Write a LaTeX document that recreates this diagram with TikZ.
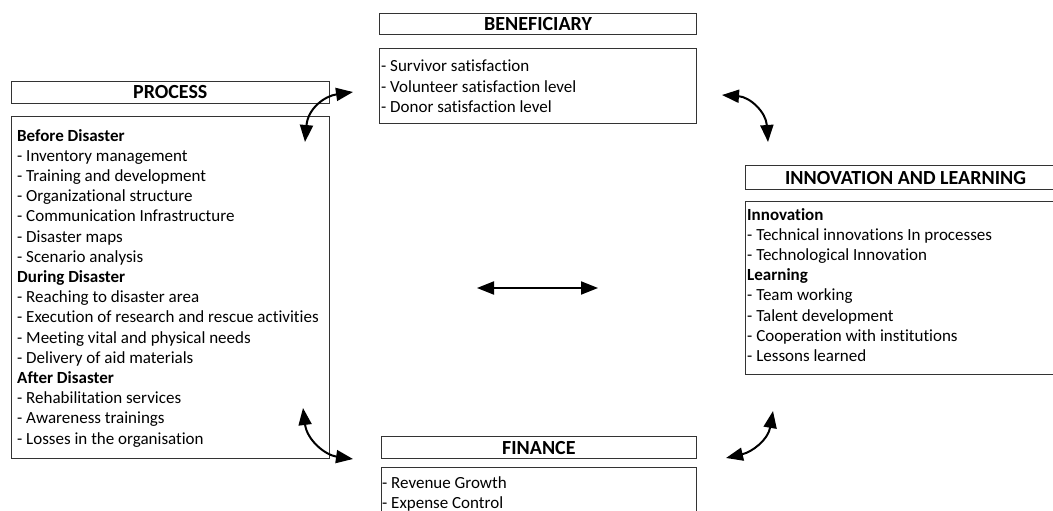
\documentclass[tikz,border=0pt]{standalone}
\usepackage{fontspec}
\setmainfont[Ligatures={NoCommon}]{Carlito}
\usetikzlibrary{arrows.meta}
\begin{document}
\begin{tikzpicture}[x=1pt,y=-1pt,
  box/.style={draw=black!80, line width=1.1pt, rectangle, inner sep=0pt, anchor=north west},
  hdr/.style={box, font=\fontsize{20}{22}\selectfont\bfseries},
  txt/.style={anchor=north west, inner sep=0pt, align=left, font=\fontsize{17}{20.2}\selectfont},
  dbl/.style={line width=2pt, {Triangle[length=17pt,width=13pt]}-{Triangle[length=17pt,width=13pt]}}]
\useasboundingbox (0,0) rectangle (1053,511);
% PROCESS
\node[hdr, minimum width=318.5pt, minimum height=22.5pt] (ph) at (10.5,80.7) {PROCESS};
\node[box, minimum width=318.5pt, minimum height=342.5pt] (pb) at (10.5,115.7) {};
\node[txt] (ptx) at (17,129) {\textbf{Before Disaster}\\
- Inventory management\\
- Training and development\\
- Organizational structure\\
- Communication Infrastructure\\
- Disaster maps\\
- Scenario analysis\\
\textbf{During Disaster}\\
- Reaching to disaster area\\
- Execution of research and rescue activities\\
- Meeting vital and physical needs\\
- Delivery of aid materials\\
\textbf{After Disaster}\\
- Rehabilitation services\\
- Awareness trainings\\
- Losses in the organisation};
% BENEFICIARY
\node[hdr, minimum width=317pt, minimum height=21.5pt] (bh) at (379,12.7) {BENEFICIARY};
\node[box, minimum width=317pt, minimum height=75pt] (bb) at (379,48) {};
\node[txt] (btx) at (381,60) {- Survivor satisfaction\\
- Volunteer satisfaction level\\
- Donor satisfaction level};
% INNOVATION AND LEARNING
\node[hdr, minimum width=320pt, minimum height=24pt] (ih) at (745,165) {INNOVATION AND LEARNING};
\node[box, minimum width=320pt, minimum height=173pt] (ib) at (745,201) {};
\node[txt] (itx) at (747,208) {\textbf{Innovation}\\
- Technical innovations In processes\\
- Technological Innovation\\
\textbf{Learning}\\
- Team working\\
- Talent development\\
- Cooperation with institutions\\
- Lessons learned};
% FINANCE
\node[hdr, minimum width=315.4pt, minimum height=22pt] (fh) at (380.6,436) {FINANCE};
\node[box, minimum width=315.4pt, minimum height=60pt] (fb) at (380.6,467) {};
\node[txt] (ftx) at (382,476.5) {- Revenue Growth\\
- Expense Control};
% connectors
\coordinate (a1s) at (305,142);
\coordinate (a1e) at (353,92);
\coordinate (a2s) at (722,95);
\coordinate (a2e) at (768,142);
\coordinate (a3s) at (303,408);
\coordinate (a3e) at (353,459);
\coordinate (a4s) at (726,458);
\coordinate (a4e) at (773,411);
\coordinate (a5s) at (477,288);
\coordinate (a5e) at (598,288);
\draw[dbl] (a1s) .. controls (308,108) and (325,96) .. (a1e);
\draw[dbl] (a2s) .. controls (750,97) and (766,112) .. (a2e);
\draw[dbl] (a3s) .. controls (307,440) and (325,455) .. (a3e);
\draw[dbl] (a4s) .. controls (752,452) and (768,440) .. (a4e);
\draw[dbl] (a5s) -- (a5e);
\end{tikzpicture}
\end{document}
